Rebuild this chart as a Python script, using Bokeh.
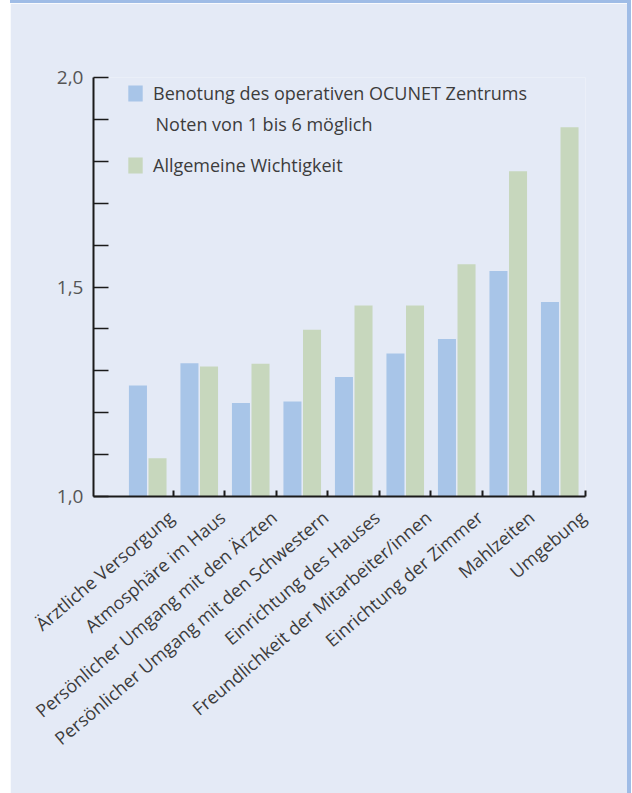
from bokeh.plotting import figure
from bokeh.models import FixedTicker, Legend, LegendItem, Range1d, ColumnDataSource, Label, Spacer
from bokeh.layouts import row, column
from bokeh.embed import file_html
from bokeh.resources import INLINE

categories = [
    "Ärztliche Versorgung",
    "Atmosphäre im Haus",
    "Persönlicher Umgang mit den Ärzten",
    "Persönlicher Umgang mit den Schwestern",
    "Einrichtung des Hauses",
    "Freundlichkeit der Mitarbeiter/innen",
    "Einrichtung der Zimmer",
    "Mahlzeiten",
    "Umgebung",
]
benotung = [1.265, 1.318, 1.223, 1.227, 1.285, 1.341, 1.376, 1.538, 1.464]
wichtigkeit = [1.091, 1.310, 1.317, 1.398, 1.456, 1.456, 1.554, 1.776, 1.881]
series_labels = [
    "Benotung des operativen OCUNET Zentrums",
    "Allgemeine Wichtigkeit",
]
series_note = "Noten von 1 bis 6 möglich"
y_tick_values = [1.0, 1.5, 2.0]
y_tick_labels = ["1,0", "1,5", "2,0"]
y_minor_values = [1.1, 1.2, 1.3, 1.4, 1.6, 1.7, 1.8, 1.9]

BG = "#E4EAF6"
BLUE = "#A8C5E8"
GREEN = "#C7D7BD"
EDGE = "#9FBCE6"
TXT = "#3c3c3c"
FONT = "Open Sans"

n = len(categories)
shift = 0.45          # label tick sits right of group centre
idx = list(range(n))
centers = [i - shift for i in idx]

src = ColumnDataSource(dict(
    xb=[c - 0.19 for c in centers],
    xg=[c + 0.19 for c in centers],
    b=benotung,
    g=wichtigkeit,
))

p = figure(width=617, height=790, output_backend="svg", toolbar_location=None,
           x_range=Range1d(-0.5 - 0.553 - shift, n - 0.5 - shift),
           y_range=Range1d(1.0, 2.0),
           min_border_left=83, min_border_top=74, min_border_bottom=297,
           min_border_right=42)
p.background_fill_color = BG
p.border_fill_color = BG
p.outline_line_color = None
p.grid.visible = False

r1 = p.vbar(x="xb", top="b", bottom=1.0, width=0.35, source=src,
            fill_color=BLUE, line_color=None)
r2 = p.vbar(x="xg", top="g", bottom=1.0, width=0.35, source=src,
            fill_color=GREEN, line_color=None)

# y axis
ya = p.yaxis[0]
ya.ticker = FixedTicker(ticks=y_tick_values, minor_ticks=y_minor_values)
ya.major_label_overrides = {v: l for v, l in zip(y_tick_values, y_tick_labels)}
ya.axis_line_color = "#1a1a1a"
ya.axis_line_width = 2
ya.major_tick_in = 15
ya.major_tick_out = 0
ya.minor_tick_in = 15
ya.minor_tick_out = 0
ya.major_tick_line_color = "#1a1a1a"
ya.minor_tick_line_color = "#1a1a1a"
ya.major_tick_line_width = 1.5
ya.minor_tick_line_width = 1.5
ya.major_label_standoff = 10
ya.major_label_text_font = FONT
ya.major_label_text_font_size = "19px"
ya.major_label_text_color = "#555555"

# x axis
xa = p.xaxis[0]
xa.ticker = FixedTicker(ticks=idx, minor_ticks=[i + 0.5 - shift for i in idx])
xa.major_label_overrides = {i: c for i, c in zip(idx, categories)}
xa.major_label_orientation = 0.70
xa.axis_line_color = "#1a1a1a"
xa.axis_line_width = 2
xa.major_tick_in = 0
xa.major_tick_out = 0
xa.minor_tick_in = 6
xa.minor_tick_out = 0
xa.minor_tick_line_color = "#1a1a1a"
xa.minor_tick_line_width = 2
xa.major_label_standoff = 18
xa.major_label_text_font = FONT
xa.major_label_text_font_size = "18px"
xa.major_label_text_color = TXT

legend = Legend(items=[LegendItem(label=series_labels[0], renderers=[r1]),
                       LegendItem(label=series_labels[1], renderers=[r2])],
                location=(33, 319))
legend.border_line_color = None
legend.background_fill_alpha = 0
legend.label_text_font = FONT
legend.label_text_font_size = "18px"
legend.label_text_color = TXT
legend.glyph_width = 18
legend.glyph_height = 20
legend.label_standoff = 9
legend.spacing = 48
legend.padding = 0
legend.margin = 0
p.add_layout(legend, "center")

note = Label(x=62, y=373, x_units="screen", y_units="screen", text=series_note,
             text_font=FONT, text_font_size="18px", text_color=TXT,
             text_baseline="middle")
p.add_layout(note)

layout = row(
    Spacer(width=10, height=793),
    column(Spacer(width=617, height=3, styles={"background-color": EDGE}), p),
    Spacer(width=4, height=793, styles={"background-color": EDGE}),
)

open("out.html", "w").write(file_html(layout, INLINE))
